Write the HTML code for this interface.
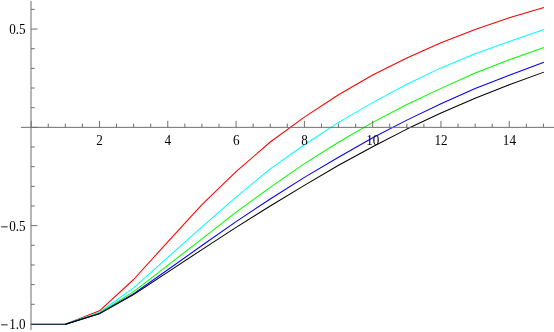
<!DOCTYPE html>
<html><head><meta charset="utf-8"><title>plot</title>
<style>
html,body{margin:0;padding:0;background:#fff;}
svg{display:block;will-change:transform;font-family:"Liberation Serif",serif;fill:#000;}
</style></head><body>
<svg width="554" height="332" viewBox="0 0 554 332">
<rect width="554" height="332" fill="#fff"/>
<polyline points="65.33,324.30 99.48,310.80 133.63,279.50 167.78,241.80 201.93,204.70 236.08,171.70 270.23,142.00 304.38,117.10 338.53,94.80 372.68,75.00 406.83,58.00 440.98,42.80 475.13,29.60 509.28,17.85 543.43,7.60" fill="none" stroke="#ff0000" stroke-width="1.05" stroke-linejoin="round" stroke-linecap="square"/>
<polyline points="65.33,324.30 99.48,312.30 133.63,287.90 167.78,257.40 201.93,226.90 236.08,197.20 270.23,168.90 304.38,144.80 338.53,122.40 372.68,102.60 406.83,84.20 440.98,67.90 475.13,53.70 509.28,41.40 543.43,29.70" fill="none" stroke="#00ffff" stroke-width="1.05" stroke-linejoin="round" stroke-linecap="square"/>
<polyline points="65.33,324.30 99.48,313.00 133.63,291.60 167.78,265.30 201.93,238.90 236.08,212.10 270.23,187.30 304.38,163.60 338.53,142.20 372.68,122.40 406.83,104.50 440.98,88.40 475.13,73.00 509.28,59.80 543.43,47.60" fill="none" stroke="#00ff00" stroke-width="1.05" stroke-linejoin="round" stroke-linecap="square"/>
<polyline points="65.33,324.30 99.48,313.40 133.63,293.60 167.78,269.70 201.93,245.55 236.08,221.60 270.23,199.00 304.38,177.40 338.53,157.20 372.68,137.80 406.83,120.10 440.98,103.70 475.13,88.40 509.28,75.20 543.43,62.40" fill="none" stroke="#0000ff" stroke-width="1.05" stroke-linejoin="round" stroke-linecap="square"/>
<polyline points="65.33,324.30 99.48,313.70 133.63,294.50 167.78,272.10 201.93,249.60 236.08,227.40 270.23,206.00 304.38,185.35 338.53,165.20 372.68,146.70 406.83,129.10 440.98,113.10 475.13,98.20 509.28,84.80 543.43,72.30" fill="none" stroke="#000000" stroke-width="1.05" stroke-linejoin="round" stroke-linecap="square"/>
<rect x="30.6" y="323" width="34.6" height="1" fill="#93abbb"/>
<rect x="30.6" y="324" width="34.6" height="1" fill="#243a44"/>
<g stroke="#6e6e6e" stroke-width="1.0" fill="none">
<line x1="31.0" y1="1" x2="31.0" y2="330"/>
<line x1="21" y1="127.35" x2="554" y2="127.35"/>
<line x1="31.18" y1="127.35" x2="31.18" y2="120.85"/>
<line x1="48.25" y1="127.35" x2="48.25" y2="123.60"/>
<line x1="65.33" y1="127.35" x2="65.33" y2="123.60"/>
<line x1="82.41" y1="127.35" x2="82.41" y2="123.60"/>
<line x1="99.48" y1="127.35" x2="99.48" y2="120.85"/>
<line x1="116.56" y1="127.35" x2="116.56" y2="123.60"/>
<line x1="133.63" y1="127.35" x2="133.63" y2="123.60"/>
<line x1="150.70" y1="127.35" x2="150.70" y2="123.60"/>
<line x1="167.78" y1="127.35" x2="167.78" y2="120.85"/>
<line x1="184.85" y1="127.35" x2="184.85" y2="123.60"/>
<line x1="201.93" y1="127.35" x2="201.93" y2="123.60"/>
<line x1="219.00" y1="127.35" x2="219.00" y2="123.60"/>
<line x1="236.08" y1="127.35" x2="236.08" y2="120.85"/>
<line x1="253.16" y1="127.35" x2="253.16" y2="123.60"/>
<line x1="270.23" y1="127.35" x2="270.23" y2="123.60"/>
<line x1="287.31" y1="127.35" x2="287.31" y2="123.60"/>
<line x1="304.38" y1="127.35" x2="304.38" y2="120.85"/>
<line x1="321.45" y1="127.35" x2="321.45" y2="123.60"/>
<line x1="338.53" y1="127.35" x2="338.53" y2="123.60"/>
<line x1="355.61" y1="127.35" x2="355.61" y2="123.60"/>
<line x1="372.68" y1="127.35" x2="372.68" y2="120.85"/>
<line x1="389.75" y1="127.35" x2="389.75" y2="123.60"/>
<line x1="406.83" y1="127.35" x2="406.83" y2="123.60"/>
<line x1="423.90" y1="127.35" x2="423.90" y2="123.60"/>
<line x1="440.98" y1="127.35" x2="440.98" y2="120.85"/>
<line x1="458.06" y1="127.35" x2="458.06" y2="123.60"/>
<line x1="475.13" y1="127.35" x2="475.13" y2="123.60"/>
<line x1="492.20" y1="127.35" x2="492.20" y2="123.60"/>
<line x1="509.28" y1="127.35" x2="509.28" y2="120.85"/>
<line x1="526.35" y1="127.35" x2="526.35" y2="123.60"/>
<line x1="543.43" y1="127.35" x2="543.43" y2="123.60"/>
<line x1="31.0" y1="304.29" x2="34.75" y2="304.29"/>
<line x1="31.0" y1="284.63" x2="34.75" y2="284.63"/>
<line x1="31.0" y1="264.97" x2="34.75" y2="264.97"/>
<line x1="31.0" y1="245.31" x2="34.75" y2="245.31"/>
<line x1="31.0" y1="225.65" x2="37.50" y2="225.65"/>
<line x1="31.0" y1="205.99" x2="34.75" y2="205.99"/>
<line x1="31.0" y1="186.33" x2="34.75" y2="186.33"/>
<line x1="31.0" y1="166.67" x2="34.75" y2="166.67"/>
<line x1="31.0" y1="147.01" x2="34.75" y2="147.01"/>
<line x1="31.0" y1="127.35" x2="37.50" y2="127.35"/>
<line x1="31.0" y1="107.69" x2="34.75" y2="107.69"/>
<line x1="31.0" y1="88.03" x2="34.75" y2="88.03"/>
<line x1="31.0" y1="68.37" x2="34.75" y2="68.37"/>
<line x1="31.0" y1="48.71" x2="34.75" y2="48.71"/>
<line x1="31.0" y1="29.05" x2="37.50" y2="29.05"/>
<line x1="31.0" y1="9.39" x2="34.75" y2="9.39"/>
</g>
<text transform="translate(99.58,144.80) scale(0.94,1)" text-anchor="middle" font-size="14">2</text>
<text transform="translate(167.88,144.80) scale(0.94,1)" text-anchor="middle" font-size="14">4</text>
<text transform="translate(236.18,144.80) scale(0.94,1)" text-anchor="middle" font-size="14">6</text>
<text transform="translate(304.48,144.80) scale(0.94,1)" text-anchor="middle" font-size="14">8</text>
<text transform="translate(372.78,144.80) scale(0.94,1)" text-anchor="middle" font-size="14">10</text>
<text transform="translate(441.08,144.80) scale(0.94,1)" text-anchor="middle" font-size="14">12</text>
<text transform="translate(509.38,144.80) scale(0.94,1)" text-anchor="middle" font-size="14">14</text>
<text transform="translate(25.70,33.80) scale(0.94,1)" text-anchor="end" font-size="14">0.5</text>
<text transform="translate(25.70,230.75) scale(0.94,1)" text-anchor="end" font-size="14">0.5</text>
<text transform="translate(25.70,328.70) scale(0.94,1)" text-anchor="end" font-size="14">1.0</text>
<line x1="1.1" y1="226.85" x2="7.7" y2="226.85" stroke="#000" stroke-width="0.85"/>
<line x1="1.1" y1="324.85" x2="7.7" y2="324.85" stroke="#000" stroke-width="0.85"/>
</svg>
</body></html>
